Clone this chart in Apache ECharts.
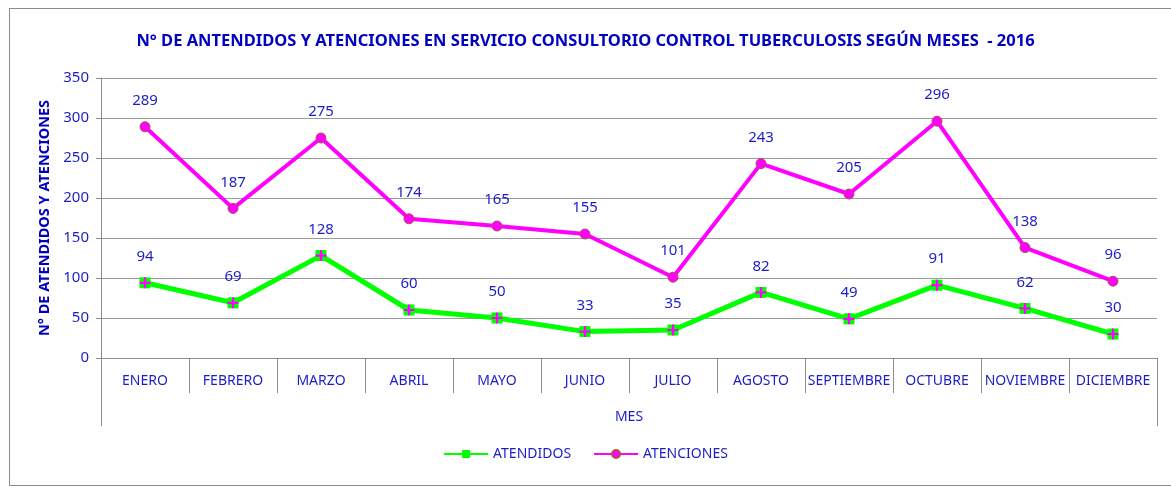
<!DOCTYPE html>
<html><head><meta charset="utf-8">
<script src="https://cdn.jsdelivr.net/npm/echarts@6/dist/echarts.min.js"></script>
<style>
html,body{margin:0;padding:0;background:#fff;}
#frame{position:absolute;left:9px;top:8px;width:1170px;height:478px;border:1px solid #8c8c8c;border-right:none;box-sizing:border-box;}
#chart{position:absolute;left:0;top:0;width:1171px;height:489px;}
</style></head>
<body>
<div id="frame"></div>
<div id="chart"></div>
<script>
const categories = ['ENERO','FEBRERO','MARZO','ABRIL','MAYO','JUNIO','JULIO','AGOSTO','SEPTIEMBRE','OCTUBRE','NOVIEMBRE','DICIEMBRE'];
const atendidos = [94,69,128,60,50,33,35,82,49,91,62,30];
const atenciones = [289,187,275,174,165,155,101,243,205,296,138,96];
const yTicks = {min:0, max:350, interval:50};

const blue = '#1c1cc8';
const font = 'Noto Sans';
const chart = echarts.init(document.getElementById('chart'));
const plusPath = 'path://M4,0H6V4H10V6H6V10H4V6H0V4H4Z';
chart.setOption({
  animation:false,
  title:{text:'N° DE ANTENDIDOS Y ATENCIONES EN SERVICIO CONSULTORIO CONTROL TUBERCULOSIS SEGÚN MESES  - 2016',
    left:'center', top:28, textStyle:{color:'#0000c0', fontFamily:font, fontWeight:'bold', fontSize:16.5}},
  legend:{bottom:23, left:'center', itemWidth:44, itemHeight:10, itemGap:22,
    textStyle:{color:blue, fontFamily:font, fontSize:14},
    data:['ATENDIDOS','ATENCIONES']},
  grid:{left:101, right:14, top:78, bottom:131},
  xAxis:[{type:'category', data:categories, boundaryGap:true,
    axisLine:{lineStyle:{color:'#8c8c8c'}},
    axisTick:{show:true, interval:0, length:35, lineStyle:{color:'#8c8c8c'}},
    axisLabel:{interval:0, color:blue, fontFamily:font, fontSize:14, margin:16},
    name:'MES', nameLocation:'middle', nameGap:52,
    nameTextStyle:{color:blue, fontFamily:font, fontSize:14}},
   {type:'category', data:[''], position:'bottom', boundaryGap:true,
    axisLine:{show:false},
    axisTick:{show:true, length:68, lineStyle:{color:'#8c8c8c'}},
    axisLabel:{show:false}}],
  yAxis:{type:'value', min:yTicks.min, max:yTicks.max, interval:yTicks.interval,
    axisLine:{show:true, lineStyle:{color:'#8c8c8c'}},
    axisTick:{show:true, length:5, lineStyle:{color:'#8c8c8c'}},
    splitLine:{lineStyle:{color:'#9a9a9a'}},
    axisLabel:{color:blue, fontFamily:font, fontSize:15, margin:12},
    name:'N° DE ATENDIDOS Y ATENCIONES', nameLocation:'middle', nameGap:48,
    nameTextStyle:{color:'#0000c0', fontFamily:font, fontWeight:'bold', fontSize:14.5}},
  series:[
    {name:'ATENCIONES', type:'line', data:atenciones, symbol:'circle', symbolSize:10,
      lineStyle:{color:'#ff00ff', width:4}, itemStyle:{color:'#ff00ff', borderColor:'#b0504a', borderWidth:1},
      label:{show:true, position:'top', distance:13, color:blue, fontFamily:font, fontSize:15}, z:2},
    {name:'ATENDIDOS', type:'line', data:atendidos, symbol:'rect', symbolSize:11,
      lineStyle:{color:'#00ff00', width:5}, itemStyle:{color:'#00ff00'},
      label:{show:true, position:'top', distance:13, color:blue, fontFamily:font, fontSize:15}, z:3},
    {name:'ATENDIDOS', type:'line', data:atendidos, symbol:plusPath, symbolSize:11,
      lineStyle:{opacity:0, width:0}, itemStyle:{color:'#ff00ff'}, z:4, silent:true}
  ]
});
</script>
</body></html>
